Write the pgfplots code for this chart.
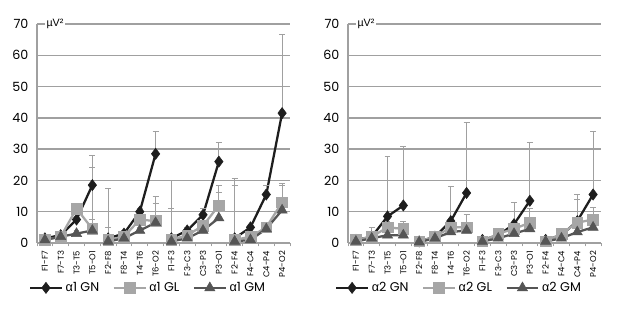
\documentclass[border=0pt]{standalone}
\usepackage{pgfplots}
\usepackage{pgfplotstable}
\pgfplotsset{compat=1.18}
\usepackage{fontspec}
\setmainfont{Poppins}
\newfontfamily\gr{Liberation Sans}

\definecolor{cGN}{HTML}{1E1E1E}
\definecolor{cGL}{HTML}{A6A6A6}
\definecolor{cGM}{HTML}{555555}
\definecolor{cAx}{HTML}{A0A0A0}

\pgfplotstableread{
x y e
0 1.5 1
1 2.5 1
2 7.5 1.5
3 18.5 9.5
3.5 nan nan
4 1.5 16
5 3 1
6 10 1
7 28.5 7
7.5 nan nan
8 1.5 18.5
9 4 1
10 9 2
11 26 6
11.5 nan nan
12 1.5 19
13 5 1
14 15.5 3
15 41.5 25
}\LGN
\pgfplotstableread{
x y e
0 1 1
1 2 1
2 11 1
3 4.5 19.5
3.5 nan nan
4 1 4
5 2 1
6 7.5 1
7 7 8
7.5 nan nan
8 1 10
9 2.5 1
10 5.5 4.5
11 12 6.5
11.5 nan nan
12 1 17.5
13 2 1
14 5 1
15 13 6
}\LGL
\pgfplotstableread{
x y e
0 1 0.5
1 2 1
2 3 1
3 4 3.5
3.5 nan nan
4 0.5 1
5 1.5 1
6 4 1
7 6.5 6
7.5 nan nan
8 0.5 9.5
9 1.5 1
10 4 1.5
11 8 8
11.5 nan nan
12 0.5 9.5
13 1 1
14 4.5 1
15 10.5 8
}\LGM
\pgfplotstableread{
x y e
0 1 1.5
1 2 1.5
2 8.5 19
3 12 19
3.5 nan nan
4 0.5 1
5 2 1.5
6 7 11
7 16 22.5
7.5 nan nan
8 1 1
9 2.5 1
10 6 7
11 13.5 18.5
11.5 nan nan
12 1 1
13 2.5 1.5
14 7 8.5
15 15.5 20
}\RGN
\pgfplotstableread{
x y e
0 1 1
1 2 3
2 5 2
3 4.5 2.5
3.5 nan nan
4 0.5 1
5 2 1.5
6 5 5
7 5 4
7.5 nan nan
8 0.5 1
9 3 1
10 4.5 2
11 6.5 4.5
11.5 nan nan
12 0.5 1
13 3 1.5
14 6.5 7.5
15 7.5 4
}\RGL
\pgfplotstableread{
x y e
0 0.5 1
1 1.5 1
2 2.5 1.5
3 2.5 1.5
3.5 nan nan
4 0.3 1
5 1.5 1
6 3.5 1.5
7 4 2
7.5 nan nan
8 0.5 1
9 1.5 1
10 3 1
11 4.5 1.5
11.5 nan nan
12 0.5 1
13 1.5 1
14 3.5 1.5
15 5 1.5
}\RGM

\pgfplotsset{
  eeg/.style={
    scale only axis, width=189.75pt, height=164.25pt,
    xmin=-0.5, xmax=15.5, ymin=0, ymax=70,
    axis x line=bottom, axis y line=left,
    axis line style={cAx, line width=1pt, -},
    xtick={0,...,15},
    xticklabels={F1-F7,F7-T3,T3-T5,T5-O1,F2-F8,F8-T4,T4-T6,T6-O2,F1-F3,F3-C3,C3-P3,P3-O1,F2-F4,F4-C4,C4-P4,P4-O2},
    x tick label style={rotate=90, anchor=east, font=\fontsize{6.3}{7}\selectfont, inner sep=1.5pt},
    major x tick style={draw=none},
    minor xtick={-0.5,0.5,...,15.5},
    minor x tick style={cAx, line width=0.6pt},
    minor tick length=2.5pt,
    tick align=outside,
    ytick={0,10,...,70},
    yticklabels={0,10,20,30,40,50,60,70},
    y tick label style={font=\fontsize{9.5}{11}\selectfont, inner sep=2pt},
    major y tick style={draw=none},
    ymajorgrids, grid style={cAx, line width=1pt},
    /pgf/number format/assume math mode=true,
    unbounded coords=jump,
    clip=false,
    legend columns=3,
    legend style={draw=none, fill=none, font=\fontsize{9.5}{11}\selectfont,
      anchor=center, at={(rel axis cs:0.44,-0.205)},
      /tikz/every even column/.append style={column sep=8pt}},
    legend image code/.code={\draw[mark repeat=2,mark phase=2] plot coordinates {(0cm,0cm)(0.42cm,0cm)(0.84cm,0cm)};},
    error bars/y dir=plus, error bars/y explicit,
    error bars/error bar style={cAx, line width=0.7pt},
    error bars/error mark options={rotate=90, cAx, mark size=2.2pt, line width=0.7pt},
  },
  sGN/.style={cGN, line width=1.7pt, mark=diamond*, mark size=4.2pt, mark options={fill=cGN, draw=cGN, line width=0.4pt}},
  sGL/.style={cGL, line width=1.7pt, mark=square*, mark size=4pt, mark options={fill=cGL, draw=cGL, line width=0.4pt}},
  sGM/.style={cGM, line width=1.7pt, mark=triangle*, mark size=4.4pt, mark options={fill=cGM, draw=cGM, line width=0.4pt}},
}

\begin{document}
\begin{tikzpicture}
\path[use as bounding box] (0,0) rectangle (466.5pt,237pt);
\fill[white] (0,0) rectangle (466.5pt,237pt);
\begin{axis}[eeg, at={(27.75pt,54.75pt)}, anchor=south west]
\addplot+[sGN] table[x=x,y=y,y error=e] {\LGN};
\addlegendentry{{\gr α}1 GN}
\addplot+[sGL] table[x=x,y=y,y error=e] {\LGL};
\addlegendentry{{\gr α}1 GL}
\addplot+[sGM] table[x=x,y=y,y error=e] {\LGM};
\addlegendentry{{\gr α}1 GM}
\node[anchor=west, fill=white, inner sep=1pt, font=\fontsize{8}{9}\selectfont\gr] at (axis cs:0,70) {µV²};
\end{axis}
\begin{axis}[eeg, at={(261pt,54.75pt)}, anchor=south west]
\addplot+[sGN] table[x=x,y=y,y error=e] {\RGN};
\addlegendentry{{\gr α}2 GN}
\addplot+[sGL] table[x=x,y=y,y error=e] {\RGL};
\addlegendentry{{\gr α}2 GL}
\addplot+[sGM] table[x=x,y=y,y error=e] {\RGM};
\addlegendentry{{\gr α}2 GM}
\node[anchor=west, fill=white, inner sep=1pt, font=\fontsize{8}{9}\selectfont\gr] at (axis cs:0,70) {µV²};
\end{axis}
\end{tikzpicture}
\end{document}
